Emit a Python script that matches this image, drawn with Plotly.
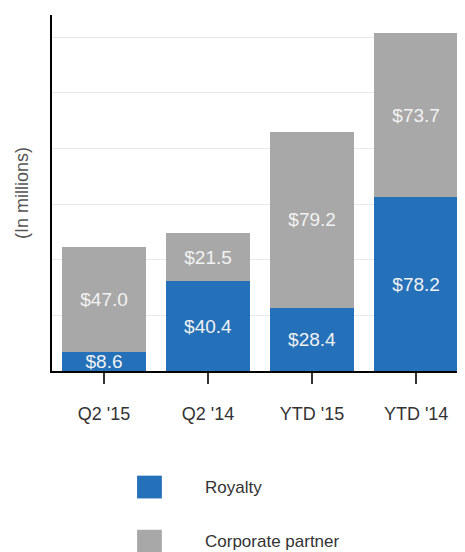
import plotly.graph_objects as go

categories = ["Q2 '15", "Q2 '14", "YTD '15", "YTD '14"]
royalty = [8.6, 40.4, 28.4, 78.2]
corporate = [47.0, 21.5, 79.2, 73.7]
series_names = ["Royalty", "Corporate partner"]
y_title = "(In millions)"

blue = "#2471B9"
gray = "#A8A8A8"
font_family = "Liberation Sans, Arial, sans-serif"

fig = go.Figure()
for name, vals, color in [(series_names[0], royalty, blue), (series_names[1], corporate, gray)]:
    fig.add_trace(go.Bar(
        x=categories, y=vals, name=name, marker=dict(color=color, line=dict(width=0)),
        text=[f"${v:.1f}" for v in vals], textposition="inside", insidetextanchor="middle",
        constraintext="none", textangle=0,
        textfont=dict(color="#F2F2F2", size=19, family=font_family),
        showlegend=False,
    ))

fig.update_layout(
    barmode="stack", bargap=0.2,
    width=457, height=544,
    margin=dict(l=44, r=0, t=7, b=181),
    plot_bgcolor="white", paper_bgcolor="white",
    font=dict(family=font_family, color="#333333"),
    xaxis=dict(range=[-0.5, 3.47], showline=True, linecolor="black", linewidth=2,
               ticks="outside", ticklen=11, tickwidth=1.5, tickcolor="#333333",
               ticklabelstandoff=14,
               tickfont=dict(size=18, color="#333333"), showgrid=False),
    yaxis=dict(range=[0, 160], dtick=25, showline=True, linecolor="black", linewidth=2,
               showticklabels=False, showgrid=True, gridcolor="#E8E8E8", gridwidth=1,
               zeroline=False),
)

fig.add_annotation(text=y_title, x=-0.0726, y=0.5, xref="paper", yref="paper",
                   textangle=-90, showarrow=False, xanchor="center", yanchor="middle",
                   font=dict(size=18, color="#555555"))

legend_y = [-0.326, -0.478]
for name, color, ly in zip(series_names, [blue, gray], legend_y):
    fig.add_shape(type="rect", xref="paper", yref="paper",
                  x0=0.206, x1=0.266, y0=ly - 0.032, y1=ly + 0.032,
                  fillcolor=color, line=dict(width=0))
    fig.add_annotation(text=name, x=0.366, y=ly, xref="paper", yref="paper",
                       showarrow=False, xanchor="left", yanchor="middle",
                       font=dict(size=17, color="#333333"))

fig.write_html("out.html")
